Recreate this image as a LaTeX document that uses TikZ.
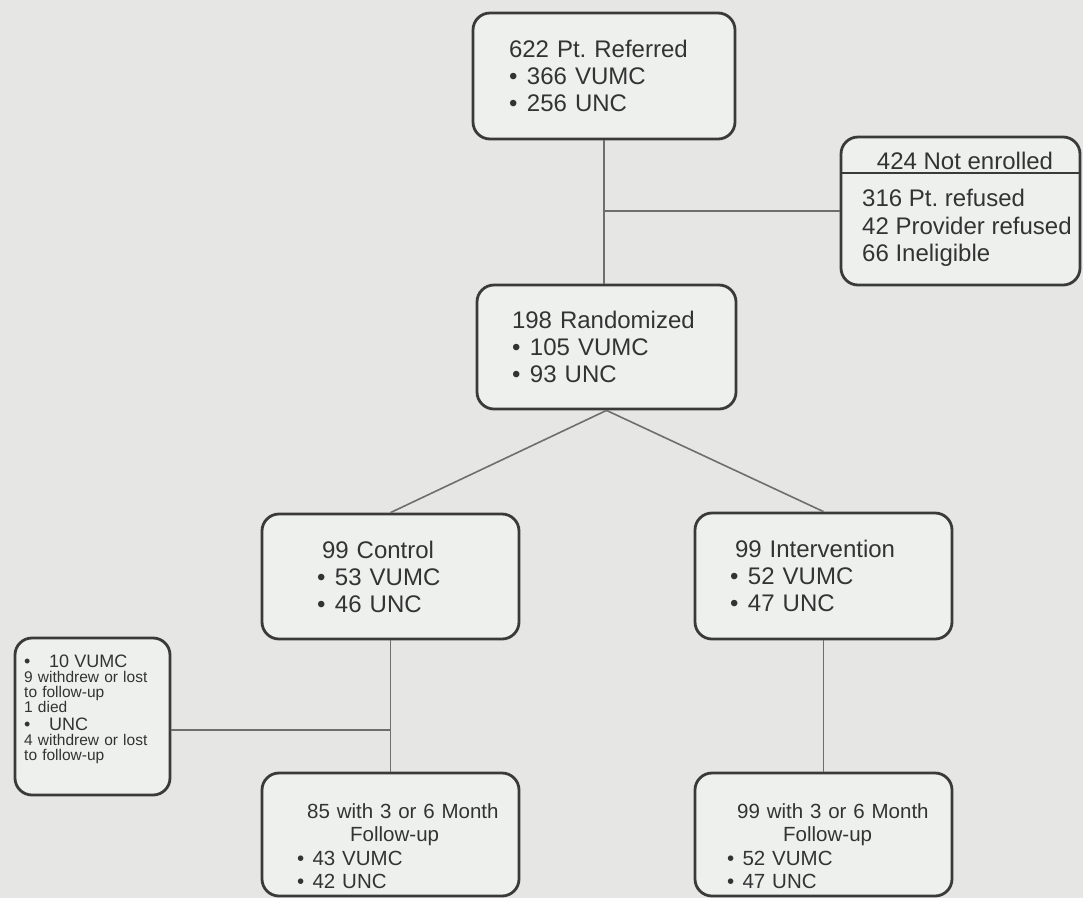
\documentclass[tikz,border=0pt]{standalone}
\usepackage{fontspec}
\setmainfont{Liberation Sans}
\usetikzlibrary{positioning}
\setlength{\parindent}{0pt}
\frenchspacing
\definecolor{paper}{HTML}{E6E7E5}
\definecolor{boxfill}{HTML}{EEF0EE}
\definecolor{frame}{HTML}{3A3A3A}
\definecolor{wire}{HTML}{6E6E6E}
\definecolor{ink}{HTML}{333333}
\tikzset{
  stage/.style={draw=frame, line width=2.8pt, fill=boxfill, rounded corners=17pt,
    inner sep=0pt, text=ink, align=left, font=\fontsize{24}{27}\selectfont},
  note/.style={text=ink, inner sep=0pt, align=left},
  wire/.style={draw=wire, line width=1.6pt}
}
\newcommand{\bul}{\makebox[0.75em][l]{\textbullet}}
\newcommand{\bigbul}[1]{{\fontsize{18}{15}\selectfont\makebox[25pt][l]{\textbullet}#1}}

\begin{document}
\begin{tikzpicture}[x=1pt,y=-1pt]
\fill[paper] (0,0) rectangle (1083,898);
\useasboundingbox (0,0) rectangle (1083,898);

% enrolment
\node[stage, minimum width=262pt, minimum height=126pt, text width=190pt] (referred) at (604,76)
  {622 Pt. Referred\\\bul 366 VUMC\\\bul 256 UNC};
\node[stage, minimum width=259pt, minimum height=124pt, text width=189pt] (randomized) at (606.5,347)
  {198 Randomized\\\bul 105 VUMC\\\bul 93 UNC};
\node[stage, minimum width=239pt, minimum height=148pt] (notenr) at (960.5,211) {};
\node[note, font=\fontsize{24}{27}\selectfont] (notenrT) at (965,161) {424 Not enrolled};
\draw[draw=frame, line width=2.2pt] (notenr.west |- 0,173) -- (notenr.east |- 0,173);
\node[note, anchor=north west, font=\fontsize{24}{27.5}\selectfont] (notenrB) at (862,189)
  {316 Pt. refused\\42 Provider refused\\66 Ineligible};

% arms
\node[stage, minimum width=257pt, minimum height=125pt, text width=147pt] (control) at (390.5,576.5)
  {\hspace*{5pt}99 Control\\\bul 53 VUMC\\\bul 46 UNC};
\node[stage, minimum width=257pt, minimum height=126pt, text width=187pt] (interv) at (823.5,576)
  {\hspace*{5pt}99 Intervention\\\bul 52 VUMC\\\bul 47 UNC};

% follow-up
\node[stage, minimum width=257pt, minimum height=123pt] (fupctrl) at (390.5,834.5) {};
\node[note, anchor=north west, text width=215pt, font=\fontsize{20.5}{23.5}\selectfont] (fupctrlT) at (297,803)
  {\hspace*{10pt}85 with 3 or 6 Month\\\hspace*{53pt}Follow-up\\\bul 43 VUMC\\\bul 42 UNC};
\node[stage, minimum width=257pt, minimum height=123pt] (fupint) at (823.5,834.5) {};
\node[note, anchor=north west, text width=215pt, font=\fontsize{20.5}{23.5}\selectfont] (fupintT) at (727,803)
  {\hspace*{10pt}99 with 3 or 6 Month\\\hspace*{56pt}Follow-up\\\bul 52 VUMC\\\bul 47 UNC};

% losses
\node[stage, minimum width=155pt, minimum height=157pt] (lost) at (92.5,716.5) {};
\node[note, anchor=north west, text width=145pt, font=\fontsize{15.5}{15}\selectfont] (lostT) at (24,655)
  {\lineskiplimit=-20pt\relax
   \bigbul{10 VUMC}\\
   9 withdrew or lost\\to follow-up\\1 died\\[2.5pt]
   \bigbul{UNC}\\
   4 withdrew or lost\\to follow-up};

% connectors
\coordinate (lostjoin) at (control.south |- 0,730);
\draw[wire] (referred.south) -- (referred.south |- randomized.north);
\draw[wire] (referred.south |- notenr.west) -- (notenr.west);
\draw[wire] (randomized.south) -- (control.north);
\draw[wire] (randomized.south) -- (interv.north);
\draw[wire] (control.south) -- (fupctrl.north);
\draw[wire] (interv.south) -- (fupint.north);
\draw[wire] (lost.east |- lostjoin) -- (lostjoin);
\end{tikzpicture}
\end{document}
